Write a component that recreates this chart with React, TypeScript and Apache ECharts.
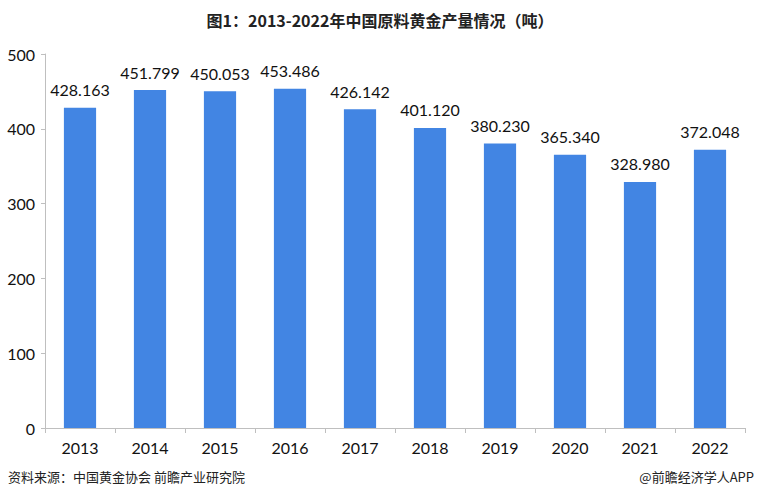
import React, { useEffect, useRef } from "react";
import * as echarts from "echarts";

const categories = ["2013", "2014", "2015", "2016", "2017", "2018", "2019", "2020", "2021", "2022"];
const values = [428.163, 451.799, 450.053, 453.486, 426.142, 401.12, 380.23, 365.34, 328.98, 372.048];
const titleText = "图1：2013-2022年中国原料黄金产量情况（吨）";
const sourceText = "资料来源：中国黄金协会 前瞻产业研究院";
const brandText = "@前瞻经济学人APP";

export default function App() {
  const ref = useRef<HTMLDivElement>(null);
  useEffect(() => {
    const chart = echarts.init(ref.current!, null, { renderer: "svg" });
    chart.setOption({
      animation: false,
      backgroundColor: "#ffffff",
      title: {
        text: titleText,
        left: "center",
        top: 7,
        textStyle: { fontSize: 16, fontWeight: "bold", color: "#222", fontFamily: "Noto Sans CJK SC" },
      },
      grid: { left: 45, right: 15, top: 54, bottom: 71 },
      xAxis: {
        type: "category",
        data: categories,
        axisLine: { lineStyle: { color: "#bfbfbf" } },
        axisTick: { show: true, alignWithLabel: false, length: 5, lineStyle: { color: "#bfbfbf" } },
        axisLabel: { fontSize: 16, color: "#111", margin: 11, fontFamily: "Lato" },
      },
      yAxis: {
        type: "value",
        min: 0,
        max: 500,
        interval: 100,
        axisLine: { show: true, lineStyle: { color: "#bfbfbf" } },
        axisTick: { show: true, length: 4, lineStyle: { color: "#bfbfbf" } },
        splitLine: { show: false },
        axisLabel: { fontSize: 16, color: "#111", margin: 10, fontFamily: "Lato" },
      },
      series: [
        {
          type: "bar",
          data: values,
          barWidth: "46%",
          itemStyle: { color: "#4285E3" },
          label: {
            show: true,
            position: "top",
            distance: 10,
            fontSize: 16,
            color: "#111",
            fontFamily: "Lato",
            formatter: (p: any) => p.value.toFixed(3),
          },
        },
      ],
      graphic: [
        {
          type: "text",
          left: 8,
          top: 470,
          style: { text: sourceText, fontSize: 13, fill: "#222", fontFamily: "Noto Sans CJK SC" },
        },
        {
          type: "text",
          right: 6,
          top: 470,
          style: { text: brandText, fontSize: 13, fill: "#222", fontFamily: "Noto Sans CJK SC" },
        },
      ],
    });
    return () => chart.dispose();
  }, []);
  return <div ref={ref} style={{ width: 760, height: 499, position: "absolute", left: 0, top: 0 }} />;
}
